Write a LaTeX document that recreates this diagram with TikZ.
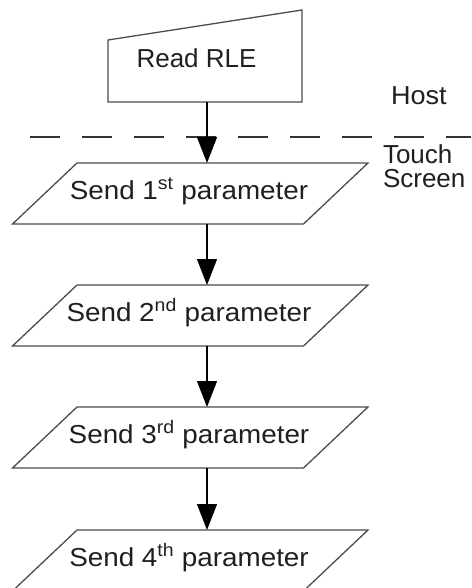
\documentclass[tikz,border=0pt]{standalone}
\usepackage{fontspec}
\setmainfont{Liberation Sans}
\usetikzlibrary{arrows.meta,calc}
\begin{document}
\begin{tikzpicture}[x=1pt,y=-1pt,
  outline/.style={draw=black!70, line width=1.3pt, line join=miter},
  holder/.style={inner sep=0pt, outer sep=0pt, minimum width=291pt, minimum height=61pt},
  txt/.style={inner sep=0pt, outer sep=0pt, text=black!88, font=\fontsize{26}{24}\selectfont},
  arr/.style={draw=black, line width=1.3pt, -{Triangle[width=20pt,length=26pt]}}]
\useasboundingbox (0,0) rectangle (471,588);
\clip (0,0) rectangle (471,588);
% Read RLE (manual input)
\node[inner sep=0pt, outer sep=0pt, minimum width=194pt, minimum height=92pt] (rle) at (205,56) {};
\draw[outline] (rle.south west) -- ($(rle.north west)+(0,30)$) -- (rle.north east) -- (rle.south east) -- cycle;
\node[txt, anchor=base] (rletext) at (196.5,68) {Read RLE};
% Host / touch screen separator
\coordinate (dl) at (30,137);
\coordinate (dr) at (471,137);
\draw[black!80, line width=1.3pt, dash pattern=on 30pt off 22pt] (dl) -- (dr);
\node[txt, anchor=base west] (host) at (391,105) {\scalebox{1.04}[1]{Host}};
\node[txt, anchor=base west, align=left] (touch) at (383,187) {Touch\\Screen};
% parameter steps
\foreach \i/\y/\s in {1/193.5/st, 2/315.5/nd, 3/437.5/rd, 4/560.5/th}{
  \node[holder] (p\i) at (190.25,\y) {};
  \draw[outline] ($(p\i.north east)+(32.25,0)$) -- ($(p\i.north west)+(32.25,0)$)
     -- ($(p\i.south west)-(32.25,0)$) -- ($(p\i.south east)-(32.25,0)$) -- cycle;
  \node[txt, anchor=base] (t\i) at (189,\y+5.5) {\scalebox{1.07}[1]{Send \i\textsuperscript{\s} parameter}};
}
\coordinate (ax) at (207,0);
\draw[arr] (rle.south -| ax) -- (p1.north -| ax);
\draw[arr] (p1.south -| ax) -- (p2.north -| ax);
\draw[arr] (p2.south -| ax) -- (p3.north -| ax);
\draw[arr] (p3.south -| ax) -- (p4.north -| ax);
\end{tikzpicture}
\end{document}
